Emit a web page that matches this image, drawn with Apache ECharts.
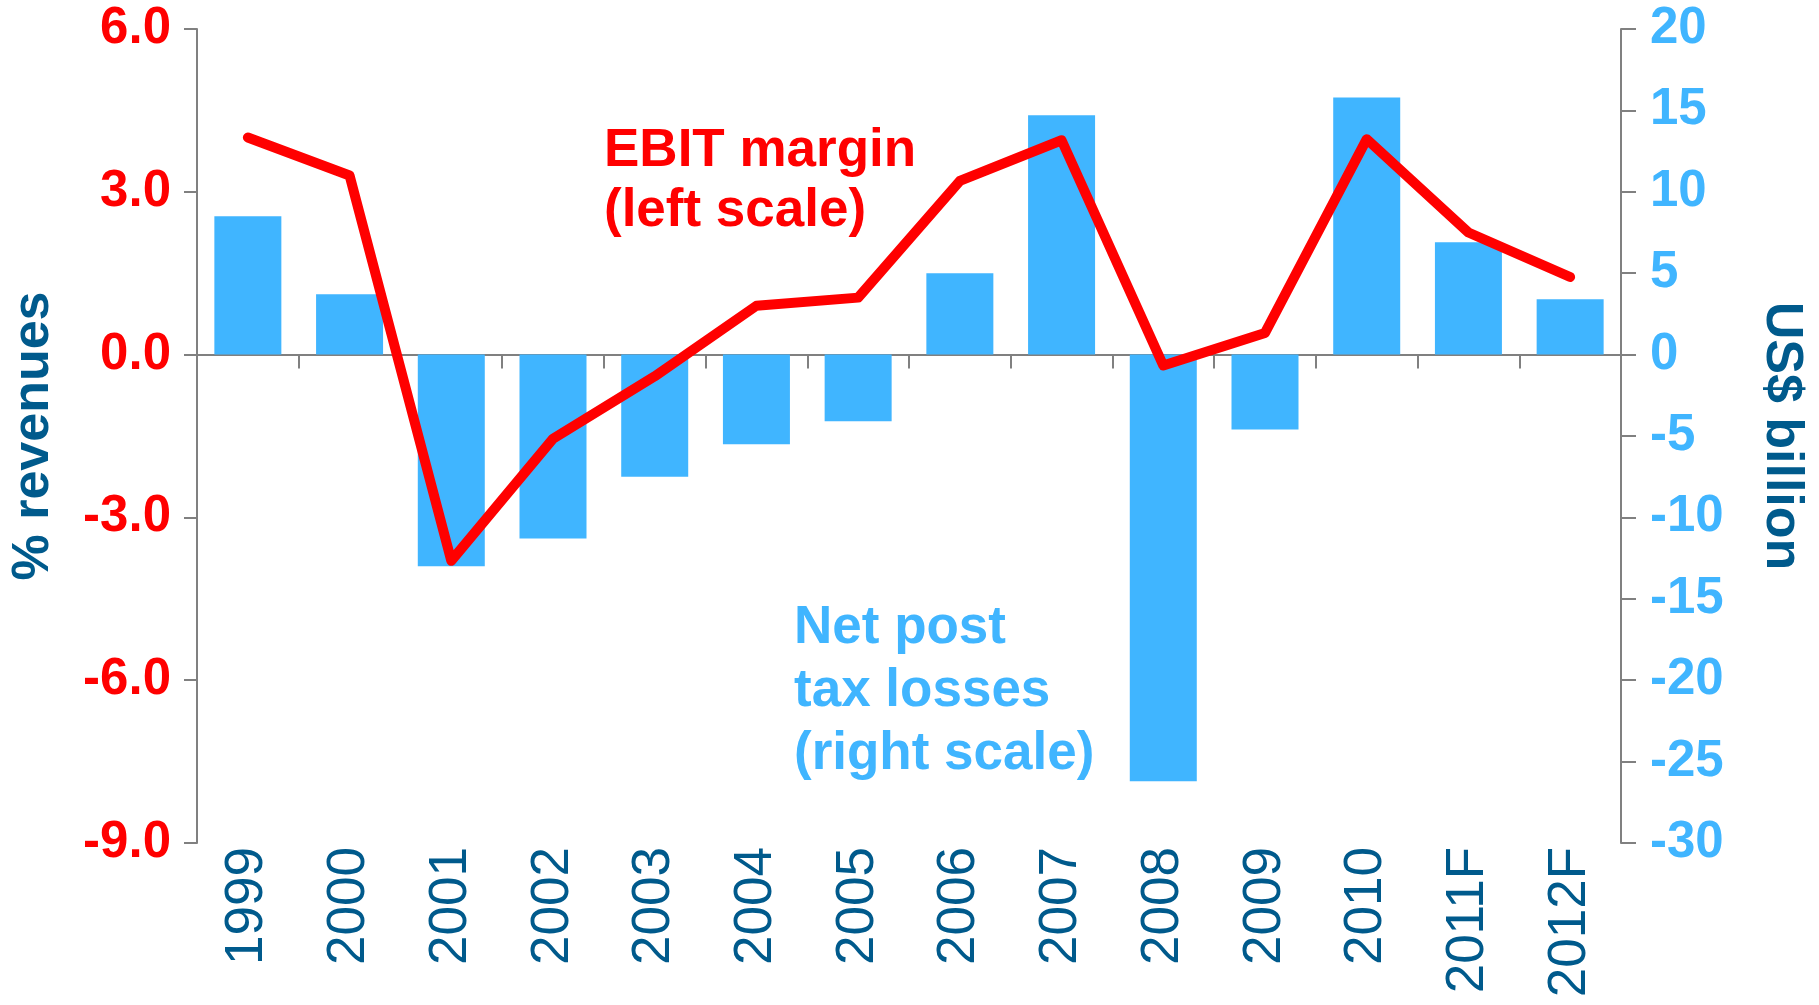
<!DOCTYPE html>
<html>
<head>
<meta charset="utf-8">
<script src="https://cdn.jsdelivr.net/npm/echarts@6/dist/echarts.min.js"></script>
<style>
  html, body { margin: 0; padding: 0; background: #fff; }
  #chart { width: 1819px; height: 1005px; }
</style>
</head>
<body>
<div id="chart"></div>
<script>
var years = ['1999', '2000', '2001', '2002', '2003', '2004', '2005', '2006', '2007', '2008', '2009', '2010', '2011F', '2012F'];
// net post tax losses, US$ billion (right scale)
var losses = [8.5, 3.7, -13.0, -11.3, -7.5, -5.5, -4.1, 5.0, 14.7, -26.2, -4.6, 15.8, 6.9, 3.4];
// EBIT margin, % revenues (left scale)
var ebit = [4.0, 3.3, -3.8, -1.55, -0.4, 0.9, 1.05, 3.2, 3.95, -0.2, 0.4, 3.97, 2.25, 1.43];

var font = "'Liberation Sans', Arial, sans-serif";
var red = '#FF0000';
var sky = '#40B5FF';
var navy = '#005A8C';
var grey = '#808080';

var chart = echarts.init(document.getElementById('chart'), null, { renderer: 'canvas' });
chart.setOption({
  animation: false,
  textStyle: { fontFamily: font },
  grid: { left: 193, right: 198, top: 29, bottom: 162, containLabel: false },
  xAxis: [
    {
      type: 'category',
      data: years,
      axisLine: { onZero: true, onZeroAxisIndex: 0, lineStyle: { color: grey, width: 2 } },
      axisTick: { show: true, length: 14, interval: 0, lineStyle: { color: grey, width: 2 } },
      axisLabel: { show: false }
    },
    {
      type: 'category',
      data: years,
      position: 'bottom',
      axisLine: { show: false, onZero: false },
      axisTick: { show: false },
      axisLabel: { rotate: 90, interval: 0, margin: 4, color: navy, fontSize: 53, fontFamily: font }
    }
  ],
  yAxis: [
    {
      type: 'value',
      min: -9, max: 6, interval: 3,
      name: '% revenues',
      nameLocation: 'middle',
      nameGap: 137,
      nameTextStyle: { color: navy, fontSize: 52, fontWeight: 'bold', fontFamily: font },
      axisLine: { show: true, lineStyle: { color: grey, width: 2 } },
      axisTick: { show: true, length: 13, lineStyle: { color: grey, width: 2 } },
      axisLabel: {
        color: red, fontSize: 51, fontWeight: 'bold', margin: 26, fontFamily: font,
        formatter: function(v) { return v.toFixed(1); }
      },
      splitLine: { show: false }
    },
    {
      type: 'value',
      position: 'right',
      min: -30, max: 20, interval: 5,
      name: 'US$ billion',
      nameLocation: 'middle',
      nameRotate: -90,
      nameGap: 134,
      nameTextStyle: { color: navy, fontSize: 52, fontWeight: 'bold', fontFamily: font },
      axisLine: { show: true, lineStyle: { color: grey, width: 2 } },
      axisTick: { show: true, length: 15, lineStyle: { color: grey, width: 2 } },
      axisLabel: { color: sky, fontSize: 51, fontWeight: 'bold', margin: 29, fontFamily: font },
      splitLine: { show: false }
    }
  ],
  series: [
    {
      name: 'Net post tax losses',
      type: 'bar',
      xAxisIndex: 0,
      yAxisIndex: 1,
      data: losses,
      barWidth: 67,
      itemStyle: { color: sky }
    },
    {
      name: 'EBIT margin',
      type: 'line',
      xAxisIndex: 0,
      yAxisIndex: 0,
      data: ebit,
      symbol: 'none',
      z: 5,
      lineStyle: { color: red, width: 10, cap: 'round', join: 'round' }
    }
  ],
  graphic: [
    {
      type: 'text',
      left: 604,
      top: 121,
      style: {
        text: 'EBIT margin\n(left scale)',
        fill: red,
        font: 'bold 53px ' + font,
        lineHeight: 60
      }
    },
    {
      type: 'text',
      left: 794,
      top: 597,
      style: {
        text: 'Net post\ntax losses\n(right scale)',
        fill: sky,
        font: 'bold 53px ' + font,
        lineHeight: 63
      }
    }
  ]
});
window.addEventListener('resize', function() { chart.resize(); });
</script>
</body>
</html>
